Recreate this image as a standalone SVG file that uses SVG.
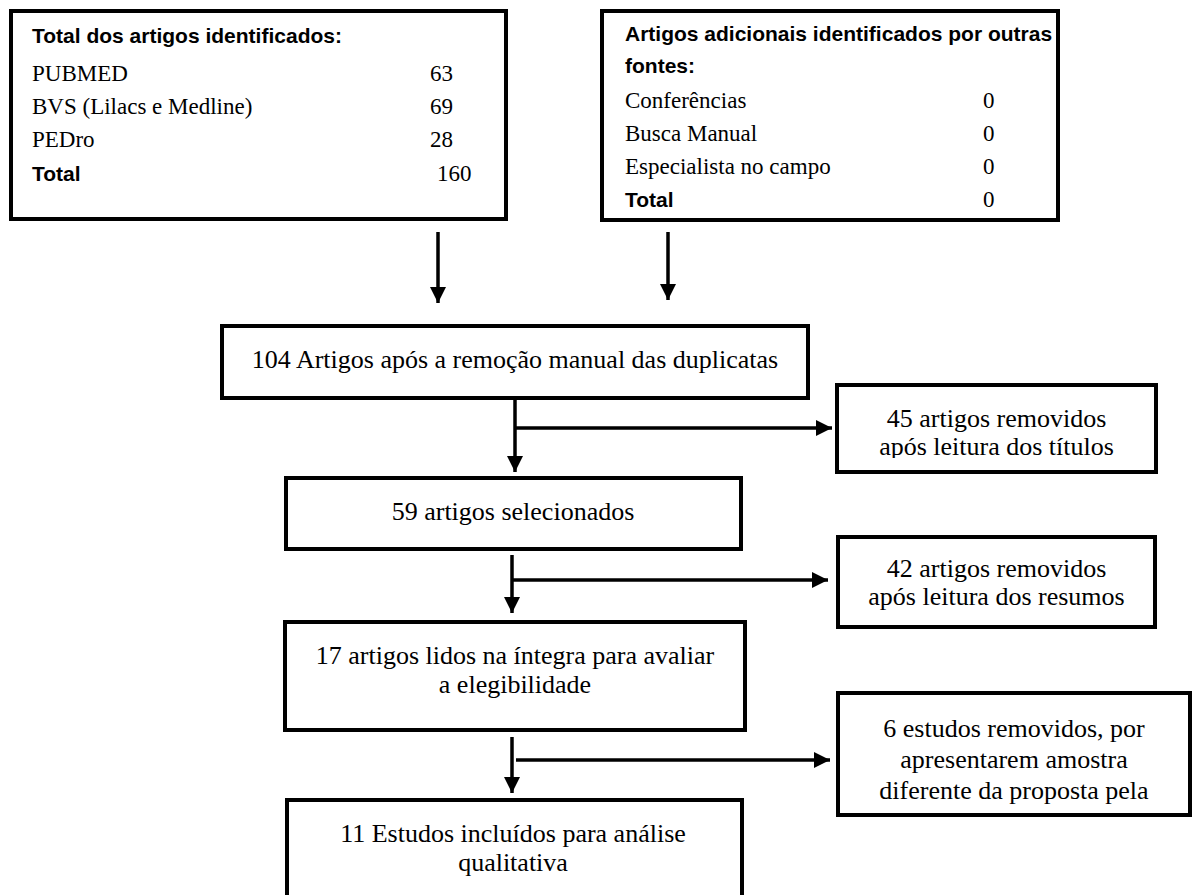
<svg xmlns="http://www.w3.org/2000/svg" width="1193" height="895" viewBox="0 0 1193 895">
<style>
.box{fill:#fff;stroke:#000;stroke-width:4}
.con{stroke:#000;stroke-width:3.5;fill:none}
.s{font-family:"Liberation Serif","Times New Roman",serif;fill:#000}
.m{font-size:26px;text-anchor:middle}
.r{font-size:23px}
.b{font-family:"Liberation Sans",Arial,sans-serif;font-weight:bold;font-size:21px;fill:#000}
</style>
<defs>
<marker id="ah" markerUnits="userSpaceOnUse" markerWidth="16" markerHeight="16" viewBox="0 0 16 16" refX="16" refY="8" orient="auto">
<path d="M0,0 L16,8 L0,16 Z" fill="#000"/>
</marker>
<clipPath id="c45"><rect x="837" y="385" width="319" height="73"/></clipPath>
</defs>
<g id="connectors">
<line class="con" x1="438" y1="232" x2="438" y2="303" marker-end="url(#ah)"/>
<line class="con" x1="668" y1="232" x2="668" y2="300" marker-end="url(#ah)"/>
<line class="con" x1="515" y1="400" x2="515" y2="472" marker-end="url(#ah)"/>
<line class="con" x1="515" y1="428" x2="832" y2="428" marker-end="url(#ah)"/>
<line class="con" x1="512" y1="555" x2="512" y2="613" marker-end="url(#ah)"/>
<line class="con" x1="512" y1="580" x2="828" y2="580" marker-end="url(#ah)"/>
<line class="con" x1="512" y1="737" x2="512" y2="793" marker-end="url(#ah)"/>
<line class="con" x1="516" y1="760" x2="830" y2="760" marker-end="url(#ah)"/>
</g>
<g id="n_total">
<rect class="box" x="11" y="11" width="495" height="208"/>
<text class="b" x="32" y="43">Total dos artigos identificados:</text>
<text class="s r" x="32" y="81">PUBMED</text><text class="s r" x="430" y="81">63</text>
<text class="s r" x="32" y="114">BVS (Lilacs e Medline)</text><text class="s r" x="430" y="114">69</text>
<text class="s r" x="32" y="147">PEDro</text><text class="s r" x="430" y="147">28</text>
<text class="b" x="32" y="181">Total</text><text class="s r" x="437" y="181">160</text>
</g>
<g id="n_adicionais">
<rect class="box" x="602" y="11" width="456" height="209"/>
<text class="b" x="625" y="41">Artigos adicionais identificados por outras</text>
<text class="b" x="625" y="73">fontes:</text>
<text class="s r" x="625" y="108">Conferências</text><text class="s r" x="983" y="108">0</text>
<text class="s r" x="625" y="141">Busca Manual</text><text class="s r" x="983" y="141">0</text>
<text class="s r" x="625" y="174">Especialista no campo</text><text class="s r" x="983" y="174">0</text>
<text class="b" x="625" y="207">Total</text><text class="s r" x="983" y="207">0</text>
</g>
<g id="n_104">
<rect class="box" x="222" y="326" width="586" height="72"/>
<text class="s m" x="515" y="368">104 Artigos após a remoção manual das duplicatas</text>
</g>
<g id="n_45">
<rect class="box" x="837" y="385" width="319" height="87"/>
<g clip-path="url(#c45)">
<text class="s m" x="996.5" y="427">45 artigos removidos</text>
<text class="s m" x="996.5" y="455">após leitura dos títulos</text>
</g>
</g>
<g id="n_59">
<rect class="box" x="286" y="478" width="455" height="71"/>
<text class="s m" x="513" y="520">59 artigos selecionados</text>
</g>
<g id="n_42">
<rect class="box" x="838" y="537" width="317" height="90"/>
<text class="s m" x="996.5" y="577">42 artigos removidos</text>
<text class="s m" x="996.5" y="605">após leitura dos resumos</text>
</g>
<g id="n_17">
<rect class="box" x="285" y="622" width="460" height="108"/>
<text class="s m" x="515" y="664">17 artigos lidos na íntegra para avaliar</text>
<text class="s m" x="515" y="693">a elegibilidade</text>
</g>
<g id="n_6">
<rect class="box" x="838" y="693" width="352" height="122"/>
<text class="s m" x="1014" y="737">6 estudos removidos, por</text>
<text class="s m" x="1014" y="768">apresentarem amostra</text>
<text class="s m" x="1014" y="799">diferente da proposta pela</text>
</g>
<g id="n_11">
<rect class="box" x="287" y="800" width="455" height="110"/>
<text class="s m" x="513" y="842">11 Estudos incluídos para análise</text>
<text class="s m" x="513" y="871">qualitativa</text>
</g>
</svg>
